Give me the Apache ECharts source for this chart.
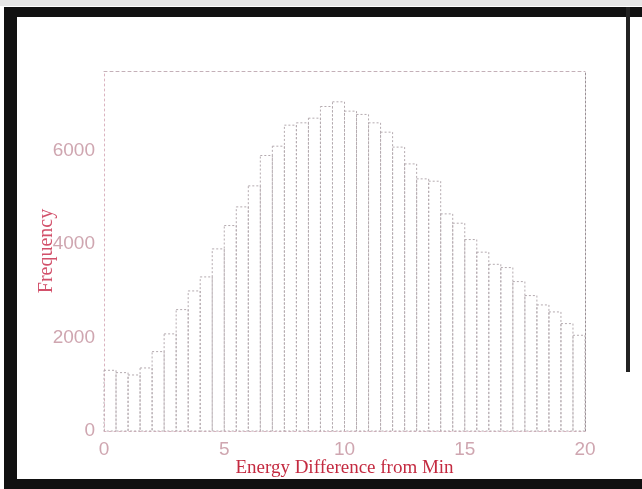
<!DOCTYPE html>
<html>
<head>
<meta charset="utf-8">
<script src="https://cdn.jsdelivr.net/npm/echarts@6/dist/echarts.min.js"></script>
<style>
html,body{margin:0;padding:0;background:#fff;}
#chart{width:642px;height:489px;}
</style>
</head>
<body>
<div id="chart"></div>
<script>
// Histogram bins (bin start, width 0.5) and counts
const binStarts = [0,0.5,1,1.5,2,2.5,3,3.5,4,4.5,5,5.5,6,6.5,7,7.5,8,8.5,9,9.5,
                   10,10.5,11,11.5,12,12.5,13,13.5,14,14.5,15,15.5,16,16.5,17,17.5,18,18.5,19,19.5];
const binWidth = 0.5;
const counts = [1300,1250,1200,1350,1700,2080,2600,3000,3300,3900,
                4400,4800,5250,5900,6100,6550,6600,6700,6950,7050,
                6850,6780,6600,6400,6080,5720,5400,5350,4650,4450,
                4100,3830,3570,3500,3200,2900,2700,2550,2300,2050];
const xTicks = [0,5,10,15,20];
const yTicks = [0,2000,4000,6000];
const xTitle = 'Energy Difference from Min';
const yTitle = 'Frequency';

const chart = echarts.init(document.getElementById('chart'), null, {renderer:'canvas'});
const data = binStarts.map((s,i)=>[s, s+binWidth, counts[i]]);

const lblColor = '#cfa6b0';
const axisLineStyle = {color:'#dbb4c0', width:1, type:[2,3]};

chart.setOption({
  animation:false,
  backgroundColor:'#ffffff',
  grid:{left:104, right:57, top:71, bottom:58},
  xAxis:[{
    type:'value', min:0, max:20, interval:5, position:'bottom',
    axisLine:{show:true, onZero:false, lineStyle:axisLineStyle},
    axisTick:{show:false}, splitLine:{show:false},
    axisLabel:{color:lblColor, fontSize:19, fontFamily:'Liberation Sans', margin:9,
      formatter:v=> xTicks.includes(v)? String(v):''},
    name:xTitle, nameLocation:'middle', nameGap:28, nameMoveOverlap:false,
    nameTextStyle:{color:'#c42a40', fontSize:19, fontFamily:'Liberation Serif'}
  },{
    type:'value', min:0, max:20, position:'top',
    axisLine:{show:true, onZero:false, lineStyle:{color:'#c4b0b8', width:1, type:[3,3]}},
    axisTick:{show:false}, axisLabel:{show:false}, splitLine:{show:false}
  }],
  yAxis:[{
    type:'value', min:0, max:7710, interval:2000, position:'left',
    axisLine:{show:true, onZero:false, lineStyle:axisLineStyle},
    axisTick:{show:false}, splitLine:{show:false},
    axisLabel:{color:lblColor, fontSize:19, fontFamily:'Liberation Sans', margin:9,
      showMaxLabel:false, formatter:v=> yTicks.includes(v)? String(v):''},
    name:yTitle, nameLocation:'middle', nameGap:47, nameRotate:90, nameMoveOverlap:false,
    nameTextStyle:{color:'#d2506a', fontSize:20, fontFamily:'Liberation Serif'}
  },{
    type:'value', min:0, max:7710, position:'right',
    axisLine:{show:true, onZero:false, lineStyle:{color:'#9a9096', width:1, type:[2,2]}},
    axisTick:{show:false}, axisLabel:{show:false}, splitLine:{show:false}
  }],
  series:[{
    type:'custom',
    data:data,
    encode:{x:[0,1], y:2},
    renderItem:function(params, api){
      const p0 = api.coord([api.value(0), 0]);
      const p1 = api.coord([api.value(1), api.value(2)]);
      return {
        type:'rect',
        shape:{x:p0[0], y:p1[1], width:p1[0]-p0[0], height:p0[1]-p1[1]},
        style:{fill:'rgba(255,255,255,0)', stroke:'#b4aaaf', lineWidth:1, lineDash:[2,2]}
      };
    }
  }],
  graphic:[
    {type:'rect', shape:{x:0,y:0,width:642,height:6}, style:{fill:'#e6e6e6'}},
    {type:'rect', shape:{x:4,y:7,width:638,height:10}, style:{fill:'#111'}},
    {type:'rect', shape:{x:4,y:7,width:13,height:482}, style:{fill:'#111'}},
    {type:'rect', shape:{x:4,y:479,width:638,height:10}, style:{fill:'#111'}},
    {type:'rect', shape:{x:626,y:7,width:4,height:365}, style:{fill:'#222'}}
  ]
});
</script>
</body>
</html>
